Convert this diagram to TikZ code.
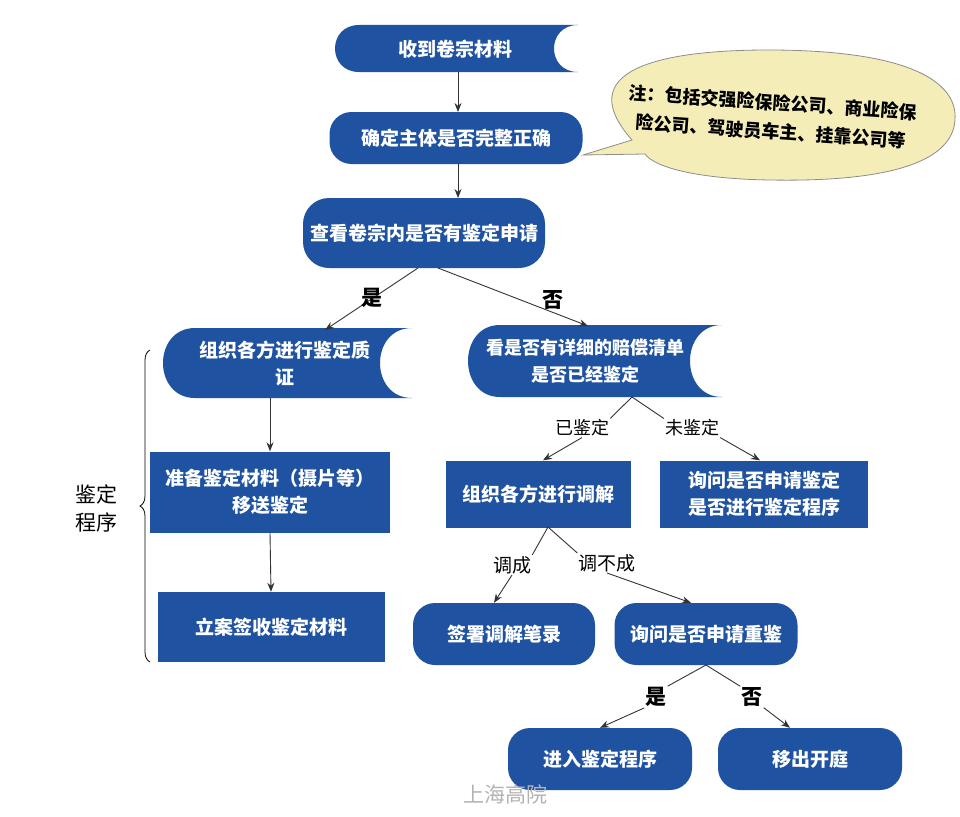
\documentclass[tikz,border=0pt]{standalone}
\usepackage{fontspec}
\setmainfont{Noto Sans CJK SC}
\usetikzlibrary{arrows.meta,decorations.pathreplacing}
\definecolor{bl}{HTML}{1F52A0}
\definecolor{note}{HTML}{F4EDB8}
\newcommand{\sdshape}[5]{% x1 y1 x2 y2 r
 \fill[bl] (#3,#2) -- (#1+#5,#2) .. controls (#1-#5/3,#2) and (#1-#5/3,#4) .. (#1+#5,#4) -- (#3,#4) .. controls (#3-4*#5/3,#4) and (#3-4*#5/3,#2) .. (#3,#2) -- cycle;}
\begin{document}
\begin{tikzpicture}[x=1pt,y=-1pt,
 txt/.style={text=white,font=\bfseries\fontsize{19}{27}\selectfont,align=center},
 rbox/.style={fill=bl,rounded corners=#1,txt},
 sbox/.style={fill=bl,txt},
 lab/.style={font=\bfseries\fontsize{19}{22}\selectfont,inner sep=1pt},
 arr/.style={draw=black!80,line width=0.9pt,-{Stealth[length=9pt,width=7pt]}},
 ln/.style={draw=black!80,line width=0.9pt}]
\useasboundingbox (0,0) rectangle (960,816);
% callout
\fill[note,draw=black!45,line width=0.8pt] (583,155) -- (632,140) .. controls (570,70) and (660,50) .. (768,50) .. controls (905,50) and (958,80) .. (955,120) .. controls (952,165) and (880,182) .. (770,180) .. controls (700,179) and (655,168) .. (645,154) -- cycle;
\node[font=\bfseries\fontsize{18}{29}\selectfont,align=center,rotate=-4,inner sep=0pt] (note) at (772,117) {注：包括交强险保险公司、商业险保\\险公司、驾驶员车主、挂靠公司等};
% shapes
\sdshape{335}{25}{578}{72}{24}
\node[txt] (n1) at (455,49) {收到卷宗材料};
\node[rbox=22,minimum width=253pt,minimum height=52pt] (n2) at (456,138) {确定主体是否完整正确};
\node[rbox=26,minimum width=242pt,minimum height=70pt] (n3) at (424,233) {查看卷宗内是否有鉴定申请};
\sdshape{163}{328}{412}{398}{32}
\node[txt] (n4) at (285,363) {组织各方进行鉴定质\\证};
\sdshape{468}{325}{722}{397}{32}
\node[txt,font=\bfseries\fontsize{18}{27}\selectfont] (n5) at (585,361) {看是否有详细的赔偿清单\\是否已经鉴定};
\node[sbox,minimum width=240pt,minimum height=81pt] (n6) at (270,492) {准备鉴定材料（摄片等）\\移送鉴定};
\node[sbox,minimum width=227pt,minimum height=70pt] (n7) at (271,627) {立案签收鉴定材料};
\node[sbox,minimum width=185pt,minimum height=67pt] (n8) at (538,494) {组织各方进行调解};
\node[sbox,minimum width=208pt,minimum height=67pt] (n9) at (764,494) {询问是否申请鉴定\\是否进行鉴定程序};
\node[rbox=22,minimum width=182pt,minimum height=62pt] (n10) at (504,634) {签署调解笔录};
\node[rbox=22,minimum width=183pt,minimum height=62pt] (n11) at (706,634) {询问是否申请重鉴};
\node[rbox=22,minimum width=184pt,minimum height=62pt] (n12) at (600,759) {进入鉴定程序};
\node[rbox=22,minimum width=184pt,minimum height=62pt] (n13) at (810,759) {移出开庭};
% connectors
\draw[arr] (458,72) -- (458,112);
\draw[arr] (458,164) -- (458,198);
\coordinate (t1) at (325,330); \coordinate (t2) at (588,326);
\draw[arr] (418,268) -- (t1);
\draw[arr] (438,268) -- (t2);
\node[lab,font=\bfseries\fontsize{21}{22}\selectfont] (ys) at (372,298) {是};
\node[lab,font=\bfseries\fontsize{21}{22}\selectfont] (no) at (553,300) {否};
\draw[arr] (270,398) -- (n6.north);
\draw[arr] (n6.south) -- (n7.north);
\node[lab,font=\fontsize{18}{20}\selectfont] (l1) at (582,428) {已鉴定};
\node[lab,font=\fontsize{18}{20}\selectfont] (l2) at (692,428) {未鉴定};
\coordinate (s5) at (632,397);
\draw[ln] (s5) -- (l1.north east);
\draw[ln] (s5) -- (l2.north west);
\draw[arr] (l1.south) -- ([xshift=5pt]n8.north);
\draw[arr] (l2.south east) -- ([xshift=-4pt]n9.north);
\node[lab,font=\fontsize{19}{20}\selectfont] (l3) at (512,565) {调成};
\node[lab,font=\fontsize{19}{20}\selectfont] (l4) at (607,563) {调不成};
\coordinate (s8) at (548,527);
\draw[ln] (s8) -- (l3.north east);
\draw[ln] (s8) -- (l4.north west);
\draw[arr] (l3.south) -- ([xshift=-10pt]n10.north);
\draw[arr] (l4.south) -- ([xshift=-15pt]n11.north);
\node[lab,font=\bfseries\fontsize{21}{22}\selectfont] (l5) at (656,697) {是};
\node[lab,font=\bfseries\fontsize{21}{22}\selectfont] (l6) at (752,697) {否};
\coordinate (s11) at (706,665);
\draw[ln] (s11) -- (l5.north east);
\draw[ln] (s11) -- (l6.north west);
\draw[arr] (l5.south west) -- (n12.north);
\draw[arr] (l6.south east) -- ([xshift=-20pt]n13.north);
% brace
\draw[line width=0.8pt,decorate,decoration={brace,amplitude=10pt}] (150,662) -- (150,350);
\node[font=\fontsize{21}{28}\selectfont,align=center] (bz) at (96,508) {鉴定\\程序};
\node[text=black!30,font=\fontsize{21}{24}\selectfont] (wm) at (505,794) {上海高院};
\end{tikzpicture}
\end{document}
